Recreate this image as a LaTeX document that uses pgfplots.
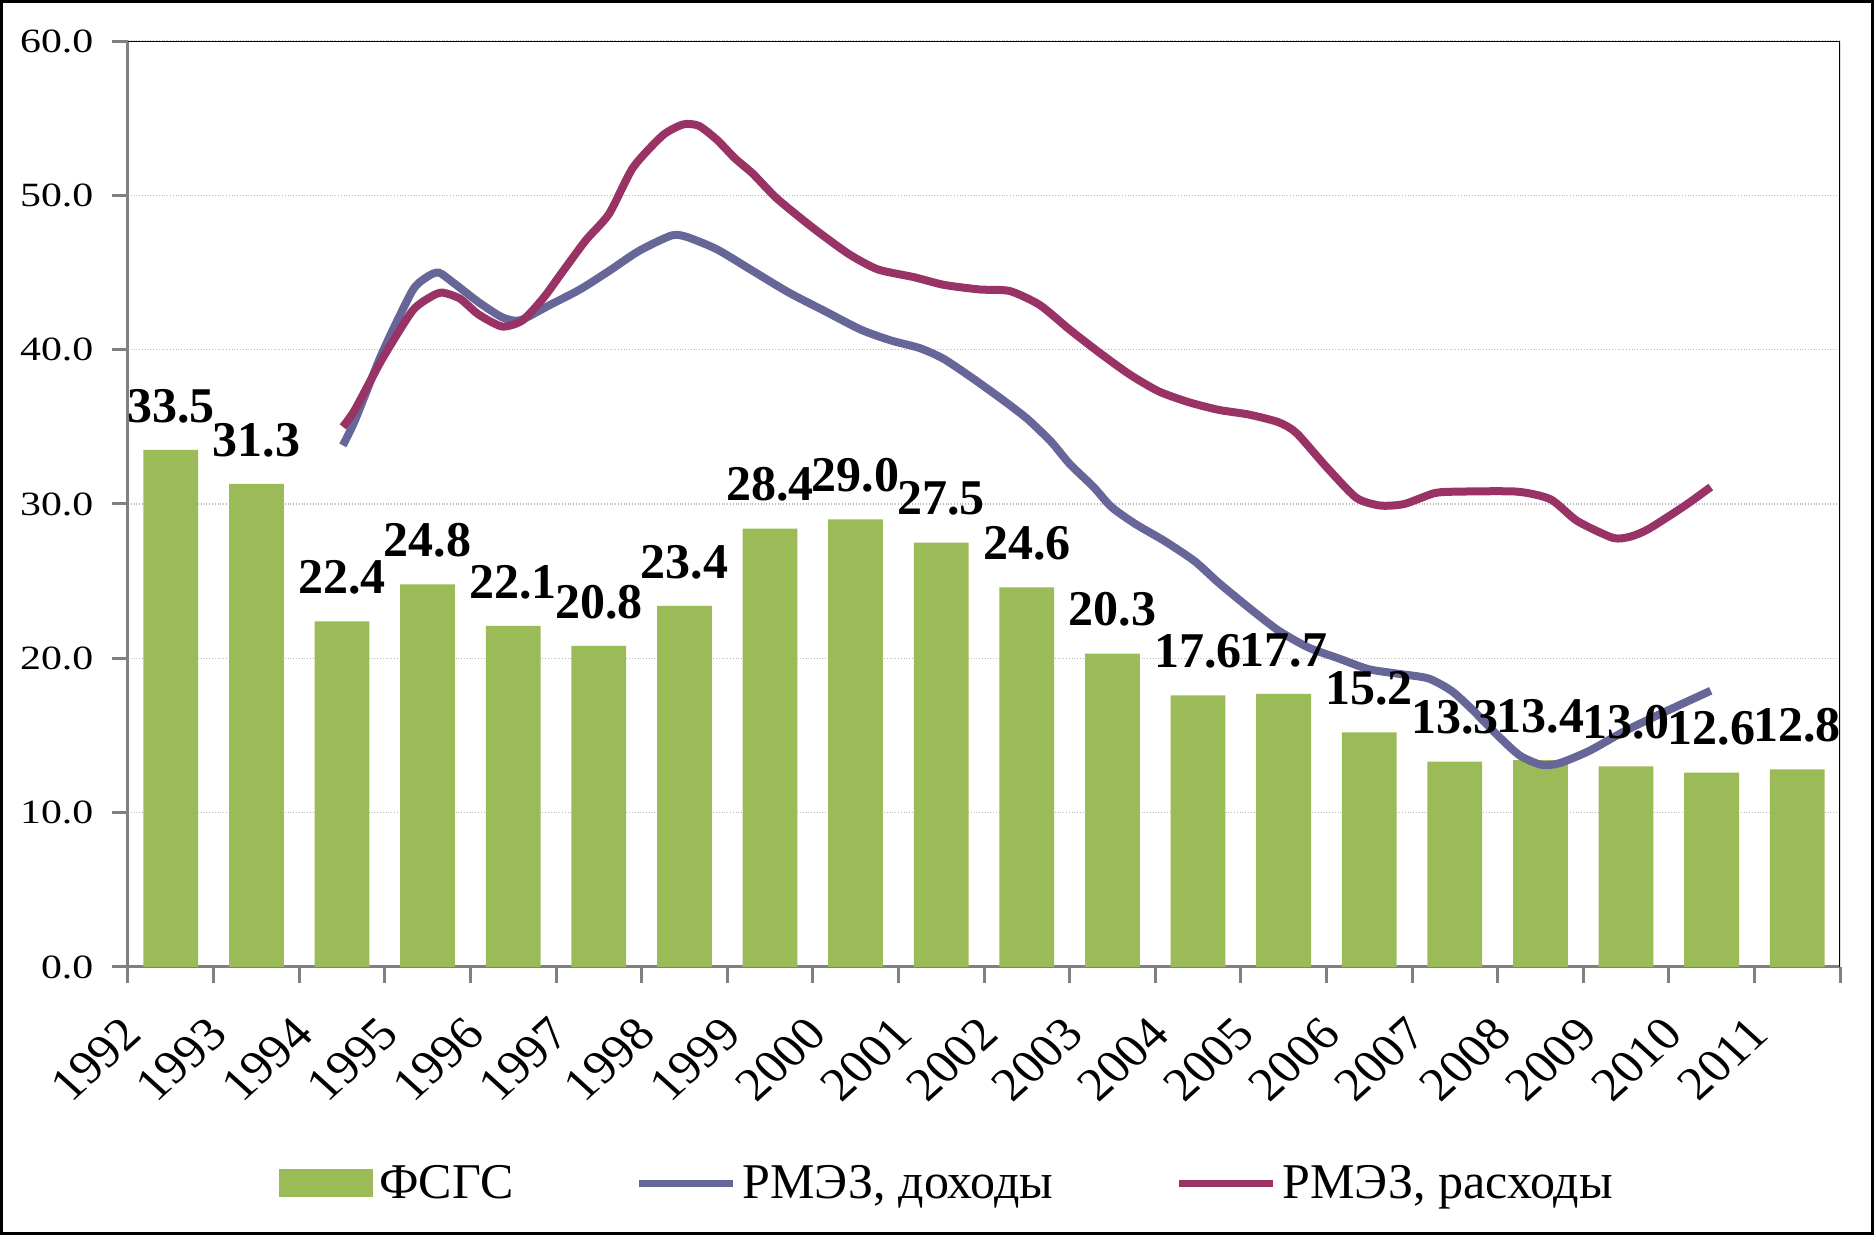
\documentclass[border=0pt]{standalone}
\usepackage{fontspec}
\setmainfont{Liberation Serif}
\usepackage{pgfplots}
\pgfplotsset{compat=1.18}
\definecolor{barg}{HTML}{9BBB59}
\definecolor{incb}{HTML}{666699}
\definecolor{expr}{HTML}{993366}
\begin{document}
\begin{tikzpicture}
\useasboundingbox (-64pt,-134pt) rectangle (873pt,483.5pt);
\draw[line width=1.5pt] (-63.25pt,-133.25pt) rectangle (872.25pt,482.75pt);
\begin{axis}[
  at={(0,0)}, anchor=south west,
  scale only axis, width=856pt, height=463pt,
  xmin=-0.5, xmax=19.5, ymin=0, ymax=60,
  axis lines*=left,
  axis line style={-, draw=gray, line width=1.5pt},
  tick align=outside,
  major tick length=8pt,
  tick style={draw=gray, line width=1.5pt},
  xtick={-0.5,0.5,...,19.5},
  xticklabels={1992,1993,1994,1995,1996,1997,1998,1999,2000,2001,2002,2003,2004,2005,2006,2007,2008,2009,2010,2011,{}},
  xticklabel style={font=\fontsize{23.5}{26}\selectfont, anchor=north east, xshift=-4pt, yshift=-11pt, xscale=1.1, rotate=45},
  ytick={0,10,...,60},
  yticklabels={0.0,10.0,20.0,30.0,40.0,50.0,60.0},
  yticklabel style={font=\fontsize{17}{20}\selectfont, xshift=-5pt, xscale=1.23},
  ymajorgrids,
  y grid style={densely dotted, draw=gray!55, line width=0.6pt},
  legend columns=3,
  legend style={draw=none, fill=none, at={(0.4796,-0.2333)}, anchor=center,
    font=\fontsize{25}{30}\selectfont,
    /tikz/every even column/.append style={column sep=58pt},
    nodes={inner xsep=3pt}},
]
\addplot[ybar, bar width=0.64, fill=barg, draw=none,
  point meta=explicit symbolic,
  nodes near coords,
  every node near coord/.append style={font=\fontsize{25}{30}\selectfont\bfseries, yshift=10pt, text=black},
  legend image code/.code={\fill[barg] (0pt,-7pt) rectangle (47pt,7pt);}]
coordinates {
(0,33.5)[33.5] (1,31.3)[31.3] (2,22.4)[22.4] (3,24.8)[24.8] (4,22.1)[22.1]
(5,20.8)[20.8] (6,23.4)[23.4] (7,28.4)[28.4] (8,29.0)[29.0] (9,27.5)[27.5]
(10,24.6)[24.6] (11,20.3)[20.3] (12,17.6)[17.6] (13,17.7)[17.7] (14,15.2)[15.2]
(15,13.3)[13.3] (16,13.4)[13.4] (17,13.0)[13.0] (18,12.6)[12.6] (19,12.8)[12.8]
};
\addlegendentry{ФСГС}
\addplot[incb, line width=4pt, line join=round, smooth, tension=0.4,
  legend image code/.code={\draw[incb, line width=3.5pt] (0pt,0pt) -- (47pt,0pt);}]
coordinates {
(2.01,33.8) (2.15,35.4) (2.47,39.8) (2.82,43.8) (2.99,44.7) (3.13,45.0)
(3.31,44.3) (3.59,43.1) (3.87,42.1) (4.08,41.9) (4.43,42.9) (4.78,43.9)
(5.12,45.1) (5.47,46.4) (5.85,47.4) (6.03,47.3) (6.38,46.5) (6.80,45.1)
(7.22,43.7) (7.64,42.5) (8.06,41.3) (8.41,40.6) (8.75,40.1) (9.03,39.4)
(9.38,38.1) (9.73,36.7) (10.01,35.5) (10.29,34.0) (10.50,32.6) (10.78,31.1)
(10.99,29.8) (11.27,28.7) (11.61,27.6) (11.96,26.3) (12.24,24.9) (12.59,23.3)
(12.94,21.8) (13.29,20.7) (13.64,20.0) (13.99,19.3) (14.34,19.0) (14.69,18.7)
(14.96,17.9) (15.20,16.7) (15.52,14.9) (15.76,13.7) (16.01,13.1) (16.22,13.2)
(16.57,14.0) (16.99,15.3) (17.48,16.6) (17.99,17.9)
};
\addlegendentry{РМЭЗ, доходы}
\addplot[expr, line width=4pt, line join=round, smooth, tension=0.4,
  legend image code/.code={\draw[expr, line width=3.5pt] (0pt,0pt) -- (47pt,0pt);}]
coordinates {
(2.01,35.0) (2.15,36.1) (2.47,39.4) (2.82,42.5) (3.03,43.4) (3.17,43.7)
(3.38,43.3) (3.59,42.3) (3.87,41.5) (4.11,41.9) (4.36,43.4) (4.57,45.0)
(4.85,47.1) (5.12,48.8) (5.40,51.8) (5.75,53.9) (5.99,54.6) (6.17,54.5)
(6.38,53.6) (6.59,52.4) (6.80,51.4) (7.08,49.8) (7.50,47.9) (7.92,46.2)
(8.26,45.2) (8.68,44.7) (9.03,44.2) (9.45,43.9) (9.80,43.8) (10.15,42.9)
(10.50,41.3) (10.85,39.8) (11.20,38.4) (11.54,37.3) (11.89,36.6) (12.24,36.1)
(12.59,35.8) (12.94,35.3) (13.15,34.6) (13.50,32.4) (13.85,30.4) (14.13,29.9)
(14.41,30.0) (14.76,30.7) (15.03,30.8) (15.73,30.8) (16.12,30.3) (16.43,28.9)
(16.85,27.8) (17.06,27.9) (17.27,28.4) (17.69,29.9) (17.99,31.1)
};
\addlegendentry{РМЭЗ, расходы}
\draw[black, line width=1pt] (rel axis cs:0,1) -- (rel axis cs:1,1) -- (rel axis cs:1,0);
\end{axis}
\end{tikzpicture}
\end{document}
